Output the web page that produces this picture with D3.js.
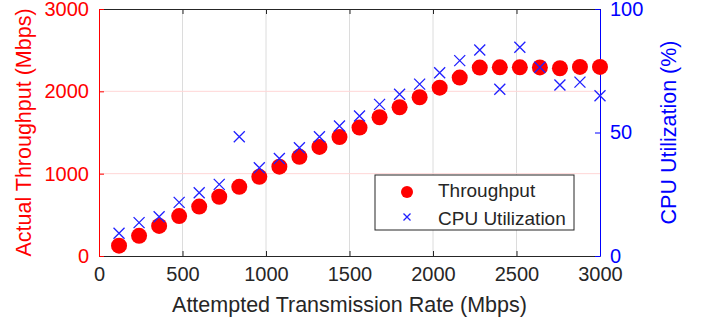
<!DOCTYPE html>
<html>
<head>
<meta charset="utf-8">
<script src="https://cdn.jsdelivr.net/npm/d3@7"></script>
<style>
  body { margin: 0; background: #fff; }
  text { font-family: "Liberation Sans", Arial, sans-serif; }
</style>
</head>
<body>
<div id="chart"></div>
<script>
const rates = [120, 240, 360, 480, 600, 720, 840, 960, 1080, 1200, 1320, 1440, 1560,
  1680, 1800, 1920, 2040, 2160, 2280, 2400, 2520, 2640, 2760, 2880, 3000];
const throughput = [125, 245, 365, 485, 600, 720, 840, 962, 1085, 1205, 1325, 1445, 1560,
  1685, 1807, 1928, 2045, 2167, 2288, 2292, 2292, 2290, 2280, 2296, 2296];
const cpu = [9.2, 13.5, 15.9, 21.7, 25.6, 29.0, 48.3, 35.7, 39.5, 43.8, 48.3, 52.6, 56.7,
  61.4, 65.5, 69.6, 74.2, 79.1, 83.4, 67.5, 84.5, 76.4, 69.2, 70.4, 64.9];
const xTicks = [0, 500, 1000, 1500, 2000, 2500, 3000];
const leftTicks = [0, 1000, 2000, 3000];
const rightTicks = [0, 50, 100];

const W = 705, H = 326;
const margin = { top: 9, right: 105, bottom: 70, left: 99 };
const w = W - margin.left - margin.right;
const h = H - margin.top - margin.bottom;
const fmt = d3.format('d');

const svg = d3.select('#chart').append('svg')
  .attr('width', W).attr('height', H);
const g = svg.append('g').attr('transform', `translate(${margin.left},${margin.top})`);

const x = d3.scaleLinear().domain([0, 3000]).range([0, w]);
const yL = d3.scaleLinear().domain([0, 3000]).range([h, 0]);
const yR = d3.scaleLinear().domain([0, 100]).range([h, 0]);

// grid
g.selectAll('.xgrid').data(xTicks.slice(1, -1)).enter().append('line')
  .attr('x1', d => x(d)).attr('x2', d => x(d)).attr('y1', 0).attr('y2', h)
  .attr('stroke', '#dcdcdc').attr('stroke-width', 1);
g.selectAll('.ygrid').data(leftTicks.slice(1, -1)).enter().append('line')
  .attr('x1', 0).attr('x2', w).attr('y1', d => yL(d)).attr('y2', d => yL(d))
  .attr('stroke', '#ffd6d6').attr('stroke-width', 1);

// axes
const xAxis = g.append('g').attr('transform', `translate(0,${h})`)
  .call(d3.axisBottom(x).tickValues(xTicks).tickFormat(fmt).tickSizeInner(-5).tickSizeOuter(0).tickPadding(11));
xAxis.select('.domain').attr('stroke', '#262626');
xAxis.selectAll('line').attr('stroke', '#262626');
xAxis.selectAll('text').attr('fill', '#262626').style('font-size', '20px');

g.append('g').call(d3.axisTop(x).tickValues(xTicks).tickSizeInner(-5).tickSizeOuter(0).tickFormat(''))
  .call(a => a.selectAll('line').attr('stroke', '#262626'))
  .call(a => a.select('.domain').attr('stroke', '#262626'));

const lAxis = g.append('g')
  .call(d3.axisLeft(yL).tickValues(leftTicks).tickFormat(fmt).tickSizeInner(-5).tickSizeOuter(0).tickPadding(10));
lAxis.selectAll('.domain, line').attr('stroke', '#ff0000');
lAxis.selectAll('text').attr('fill', '#ff0000').style('font-size', '20px');

const rAxis = g.append('g').attr('transform', `translate(${w},0)`)
  .call(d3.axisRight(yR).tickValues(rightTicks).tickFormat(fmt).tickSizeInner(-5).tickSizeOuter(0).tickPadding(10));
rAxis.selectAll('.domain, line').attr('stroke', '#0000ff');
rAxis.selectAll('text').attr('fill', '#0000ff').style('font-size', '20px');

// labels
svg.append('text').attr('x', margin.left + w / 2).attr('y', 312)
  .attr('text-anchor', 'middle').attr('fill', '#262626').style('font-size', '21.5px')
  .text('Attempted Transmission Rate (Mbps)');
svg.append('text').attr('transform', `translate(31,${margin.top + h / 2}) rotate(-90)`)
  .attr('text-anchor', 'middle').attr('fill', '#ff0000').style('font-size', '21.5px')
  .text('Actual Throughput (Mbps)');
svg.append('text').attr('transform', `translate(676,${margin.top + h / 2}) rotate(-90)`)
  .attr('text-anchor', 'middle').attr('fill', '#0000ff').style('font-size', '21.5px')
  .text('CPU Utilization (%)');

// marks
g.selectAll('.dot').data(rates).enter().append('circle')
  .attr('cx', d => x(d)).attr('cy', (d, i) => yL(throughput[i])).attr('r', 8)
  .attr('fill', '#ff0000');

const cross = (sel, s) => sel.attr('d', `M${-s},${-s}L${s},${s}M${-s},${s}L${s},${-s}`)
  .attr('stroke', '#2020ff').attr('stroke-width', 1.3).attr('fill', 'none');

g.selectAll('.cross').data(rates).enter().append('path')
  .attr('transform', (d, i) => `translate(${x(d)},${yR(cpu[i])})`)
  .call(cross, 5.5);

// legend
const lg = svg.append('g').attr('transform', 'translate(375,175)');
lg.append('rect').attr('width', 199).attr('height', 55)
  .attr('fill', '#fff').attr('stroke', '#262626').attr('stroke-width', 1);
lg.append('circle').attr('cx', 32).attr('cy', 17).attr('r', 6).attr('fill', '#ff0000');
lg.append('path').attr('transform', 'translate(32,42)').call(cross, 3.5);
lg.append('text').attr('x', 63).attr('y', 22).attr('fill', '#262626').style('font-size', '19px')
  .text('Throughput');
lg.append('text').attr('x', 63).attr('y', 50).attr('fill', '#262626').style('font-size', '19px')
  .text('CPU Utilization');
</script>
</body>
</html>
